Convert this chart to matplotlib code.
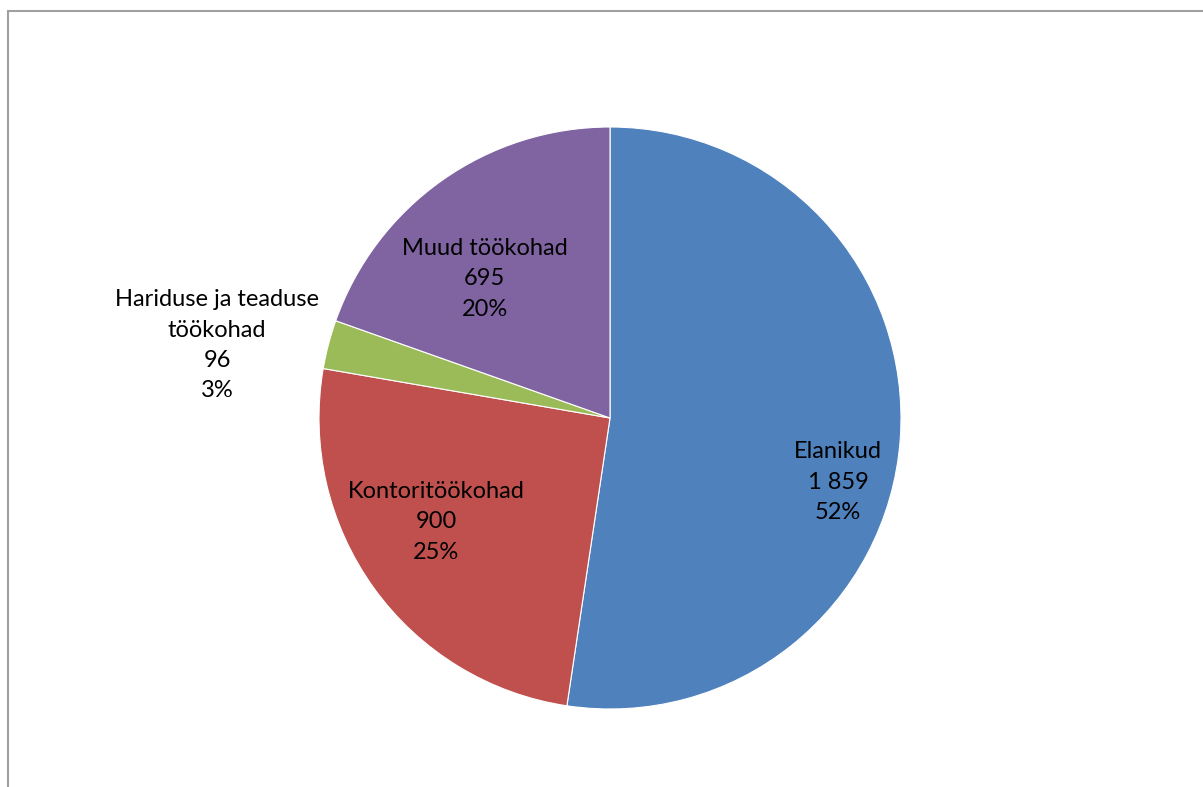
import numpy as np
import matplotlib
matplotlib.use("Agg")
import matplotlib.pyplot as plt
from matplotlib.patches import Rectangle

plt.rcParams['font.family'] = ['Lato', 'DejaVu Sans']

# ---------- data ----------
categories = ["Elanikud", "Kontoritöökohad", "Hariduse ja teaduse\ntöökohad", "Muud töökohad"]
values = [1859, 900, 96, 695]
colors = ["#4F81BD", "#C0504D", "#9BBB59", "#8064A2"]

# label centres in pie radius units (layout only)
label_pos = [(0.784, -0.22), (-0.598, -0.357), (-1.35, 0.25), (-0.43, 0.478)]

W, H = 1203, 787
fig = plt.figure(figsize=(W / 100, H / 100), dpi=100)

# outer chart frame (only top and left edges are visible)
fig.patches.append(Rectangle((8 / W, -0.1), 1.2, 1 - 11 / H + 0.1, transform=fig.transFigure,
                             fill=False, edgecolor="#A0A0A0", linewidth=1.5))

cx, cy, r = 610, 418, 291
ax = fig.add_axes([(cx - r) / W, (H - cy - r) / H, 2 * r / W, 2 * r / H])
ax.pie(values, colors=colors, startangle=90, counterclock=False, radius=1,
       wedgeprops=dict(edgecolor="white", linewidth=0.8))
ax.set_xlim(-1, 1)
ax.set_ylim(-1, 1)
ax.set_aspect('auto')
ax.axis('off')

total = sum(values)
for name, v, (x, y) in zip(categories, values, label_pos):
    txt = f"{name}\n{v:,}".replace(",", " ") + f"\n{round(100 * v / total)}%"
    ax.text(x, y, txt, ha='center', va='center', fontsize=17, color='black',
            linespacing=1.55, clip_on=False)

fig.savefig("out.png", dpi=100)
